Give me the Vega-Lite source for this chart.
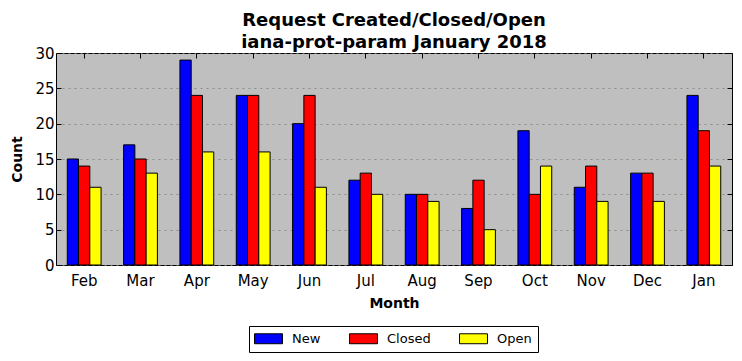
{
  "$schema": "https://vega.github.io/schema/vega-lite/v6.json",
  "autosize": "none",
  "width": 676,
  "height": 212,
  "padding": {"left": 56, "top": 53, "right": 10, "bottom": 96},
  "background": "white",
  "title": {
    "text": ["Request Created/Closed/Open", "iana-prot-param January 2018"],
    "font": "DejaVu Sans",
    "fontSize": 18,
    "fontWeight": "bold",
    "color": "black",
    "anchor": "middle",
    "offset": -6,
    "lineHeight": 22
  },
  "config": {
    "view": {"fill": "#bfbfbf", "stroke": "black", "strokeWidth": 1},
    "axis": {
      "labelFont": "DejaVu Sans",
      "labelFontSize": 15,
      "labelColor": "black",
      "titleFont": "DejaVu Sans",
      "titleFontSize": 14,
      "titleFontWeight": "bold",
      "titleColor": "black",
      "domainColor": "black",
      "tickColor": "black"
    }
  },
  "data": {
    "values": [
      {"month": "Feb", "status": "New", "count": 15},
      {"month": "Feb", "status": "Closed", "count": 14},
      {"month": "Feb", "status": "Open", "count": 11},
      {"month": "Mar", "status": "New", "count": 17},
      {"month": "Mar", "status": "Closed", "count": 15},
      {"month": "Mar", "status": "Open", "count": 13},
      {"month": "Apr", "status": "New", "count": 29},
      {"month": "Apr", "status": "Closed", "count": 24},
      {"month": "Apr", "status": "Open", "count": 16},
      {"month": "May", "status": "New", "count": 24},
      {"month": "May", "status": "Closed", "count": 24},
      {"month": "May", "status": "Open", "count": 16},
      {"month": "Jun", "status": "New", "count": 20},
      {"month": "Jun", "status": "Closed", "count": 24},
      {"month": "Jun", "status": "Open", "count": 11},
      {"month": "Jul", "status": "New", "count": 12},
      {"month": "Jul", "status": "Closed", "count": 13},
      {"month": "Jul", "status": "Open", "count": 10},
      {"month": "Aug", "status": "New", "count": 10},
      {"month": "Aug", "status": "Closed", "count": 10},
      {"month": "Aug", "status": "Open", "count": 9},
      {"month": "Sep", "status": "New", "count": 8},
      {"month": "Sep", "status": "Closed", "count": 12},
      {"month": "Sep", "status": "Open", "count": 5},
      {"month": "Oct", "status": "New", "count": 19},
      {"month": "Oct", "status": "Closed", "count": 10},
      {"month": "Oct", "status": "Open", "count": 14},
      {"month": "Nov", "status": "New", "count": 11},
      {"month": "Nov", "status": "Closed", "count": 14},
      {"month": "Nov", "status": "Open", "count": 9},
      {"month": "Dec", "status": "New", "count": 13},
      {"month": "Dec", "status": "Closed", "count": 13},
      {"month": "Dec", "status": "Open", "count": 9},
      {"month": "Jan", "status": "New", "count": 24},
      {"month": "Jan", "status": "Closed", "count": 19},
      {"month": "Jan", "status": "Open", "count": 14}
    ]
  },
  "resolve": {"axis": {"x": "independent", "y": "independent"}},
  "layer": [
    {
      "mark": {"type": "bar", "stroke": "black", "strokeWidth": 1},
      "encoding": {
        "x": {
          "field": "month",
          "type": "nominal",
          "sort": ["Feb", "Mar", "Apr", "May", "Jun", "Jul", "Aug", "Sep", "Oct", "Nov", "Dec", "Jan"],
          "scale": {"paddingInner": 0.4, "paddingOuter": 0.2},
          "axis": {
            "title": "Month",
            "labelAngle": 0,
            "tickSize": -5,
            "labelPadding": 13,
            "titlePadding": 8,
            "domain": false
          }
        },
        "xOffset": {
          "field": "status",
          "type": "nominal",
          "sort": ["New", "Closed", "Open"]
        },
        "y": {
          "field": "count",
          "type": "quantitative",
          "scale": {"domain": [0, 30], "nice": false},
          "axis": {
            "title": "Count",
            "values": [0, 5, 10, 15, 20, 25, 30],
            "tickSize": -5,
            "labelPadding": 7,
            "titlePadding": 10,
            "domain": false,
            "grid": true,
            "gridColor": "#7f7f7f",
            "gridDash": [2, 4],
            "gridWidth": 0.8
          }
        },
        "color": {
          "field": "status",
          "type": "nominal",
          "sort": ["New", "Closed", "Open"],
          "scale": {"domain": ["New", "Closed", "Open"], "range": ["#0000ff", "#ff0000", "#ffff00"]},
          "legend": {
            "title": null,
            "orient": "none",
            "legendX": 193,
            "legendY": 273,
            "direction": "horizontal",
            "strokeColor": "black",
            "fillColor": "white",
            "padding": 6,
            "symbolType": "M-2.33,-0.83H2.33V0.83H-2.33Z",
            "symbolSize": 144,
            "symbolOffset": 7,
            "symbolStrokeColor": "black",
            "symbolStrokeWidth": 1,
            "symbolOpacity": 1,
            "labelFont": "DejaVu Sans",
            "labelFontSize": 13,
            "labelColor": "black",
            "labelOffset": 17,
            "columnPadding": 26
          }
        }
      }
    },
    {
      "mark": {"type": "bar", "opacity": 0, "strokeWidth": 0},
      "encoding": {
        "x": {
          "field": "month",
          "type": "nominal",
          "sort": ["Feb", "Mar", "Apr", "May", "Jun", "Jul", "Aug", "Sep", "Oct", "Nov", "Dec", "Jan"],
          "axis": {
            "orient": "top",
            "title": null,
            "labels": false,
            "tickSize": -5,
            "domain": false
          }
        },
        "xOffset": {
          "field": "status",
          "type": "nominal",
          "sort": ["New", "Closed", "Open"]
        },
        "y": {
          "field": "count",
          "type": "quantitative",
          "axis": {
            "orient": "right",
            "title": null,
            "labels": false,
            "values": [0, 5, 10, 15, 20, 25, 30],
            "tickSize": -5,
            "domain": false,
            "grid": false
          }
        }
      }
    }
  ]
}
